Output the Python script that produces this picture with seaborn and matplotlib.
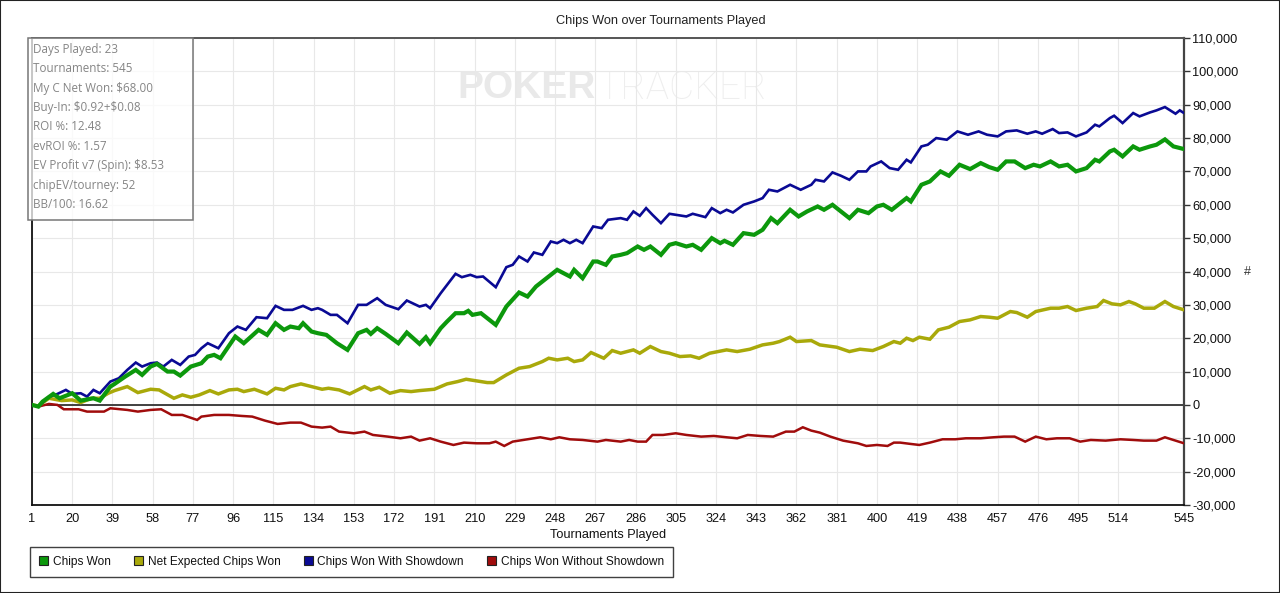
import numpy as np
import pandas as pd
import matplotlib
matplotlib.use("Agg")
import matplotlib.pyplot as plt
from matplotlib.patches import Patch, Rectangle
from matplotlib.ticker import FuncFormatter
import seaborn as sns

# ---------------- data ----------------
green_t = [1, 4, 6, 11, 14, 20, 24, 30, 33, 38, 40, 45, 50, 53, 57, 60, 65, 68, 71, 76, 81, 84, 87, 90,
           97, 101, 108, 112, 116, 120, 123, 127, 129, 133, 136, 140, 145, 150, 155, 159, 161, 164, 168,
           174, 178, 184, 187, 189, 194, 197, 201, 205, 207, 209, 213, 216, 220, 225, 231, 235, 239, 244,
           249, 252, 255, 257, 261, 266, 268, 272, 275, 279, 282, 287, 290, 293, 298, 302, 305, 310, 313,
           317, 322, 326, 328, 332, 337, 342, 346, 350, 353, 359, 363, 367, 372, 375, 379, 383, 387, 391,
           396, 400, 403, 407, 410, 414, 416, 421, 425, 430, 434, 439, 444, 449, 453, 457, 461, 465, 470,
           474, 477, 482, 486, 490, 494, 499, 503, 505, 510, 512, 516, 521, 524, 529, 532, 536, 540, 545]
green_v = [0, -500, 1000, 3300, 2000, 3500, 1300, 2000, 1300, 5500, 6300, 8500, 10500, 9000, 11500, 12300,
           10000, 10000, 8800, 11500, 12500, 14500, 15000, 14000, 20500, 18500, 22500, 21000, 24500, 22500,
           23500, 23000, 24500, 22000, 21500, 21000, 18500, 16500, 21500, 22500, 21300, 23000, 21300, 18500,
           21700, 18300, 20300, 18500, 23000, 25000, 27500, 27500, 28200, 27000, 27500, 26000, 24000, 29500,
           33700, 32500, 35500, 38000, 40500, 39500, 38500, 40500, 38000, 43000, 43000, 42000, 44500, 45000,
           45500, 47500, 46500, 47500, 45000, 48000, 48500, 47500, 48000, 46500, 50000, 48500, 49200, 48000,
           51500, 51000, 52500, 56000, 54500, 58500, 56500, 58000, 59500, 58500, 60000, 58000, 56000, 58500,
           57500, 59500, 60000, 58500, 60000, 62000, 61000, 66000, 67000, 70000, 68700, 72000, 70700, 72500,
           71300, 70500, 73000, 73000, 71000, 72000, 71500, 73000, 71500, 72000, 70000, 71000, 73500, 73000,
           76000, 76500, 74500, 77500, 76500, 77500, 78000, 79600, 77500, 76700]

blue_t = [1, 4, 9, 12, 17, 20, 24, 27, 30, 33, 38, 42, 46, 50, 53, 57, 60, 63, 67, 71, 75, 78, 81, 84, 89,
          94, 98, 102, 107, 112, 116, 120, 124, 129, 133, 136, 138, 142, 145, 150, 155, 159, 164, 168, 174,
          178, 184, 187, 189, 194, 197, 201, 204, 208, 211, 214, 220, 225, 228, 231, 235, 238, 242, 246,
          249, 252, 255, 258, 261, 266, 270, 273, 279, 282, 285, 288, 291, 294, 298, 302, 305, 310, 313,
          319, 322, 326, 329, 332, 337, 342, 346, 349, 353, 359, 364, 369, 371, 375, 379, 383, 387, 391,
          395, 397, 402, 406, 410, 414, 416, 421, 424, 428, 433, 438, 443, 448, 452, 457, 461, 466, 471,
          475, 478, 483, 486, 490, 494, 499, 503, 505, 510, 512, 516, 521, 524, 529, 532, 536, 541, 543, 545]
blue_v = [0, -500, 2500, 3000, 4500, 3300, 3500, 2500, 4500, 3500, 7000, 8000, 10500, 12700, 11500, 12500,
          12700, 11500, 13500, 12000, 14500, 15000, 17000, 18500, 17000, 21500, 23500, 22500, 26300, 26000,
          29700, 28500, 28500, 29700, 28500, 29000, 28500, 27000, 27000, 24500, 30000, 30000, 32000, 30000,
          28700, 31300, 29500, 30000, 29000, 33500, 36000, 39300, 38300, 39000, 38300, 38500, 35300, 41300,
          42000, 44500, 43000, 45700, 45000, 49000, 48500, 49500, 48500, 49500, 48500, 53500, 53000, 55500,
          56000, 55500, 58000, 56700, 59000, 57000, 54500, 57300, 57000, 56500, 57300, 56300, 59000, 57500,
          58500, 57700, 60000, 61000, 62000, 64500, 64000, 66000, 64500, 66000, 67500, 67000, 69700, 68700,
          67500, 70000, 70000, 71500, 73000, 71000, 70500, 73500, 72700, 77500, 78000, 80000, 79500, 82000,
          81000, 82000, 81000, 80500, 82000, 82300, 81300, 82000, 81300, 82700, 81500, 81700, 80500, 81700,
          84000, 83500, 86000, 86700, 84500, 87500, 86500, 87700, 88300, 89300, 87300, 88300, 87500]

yellow_t = [1, 4, 9, 15, 20, 24, 29, 33, 37, 40, 46, 51, 57, 61, 68, 72, 76, 80, 85, 89, 94, 98, 101, 106,
            112, 116, 120, 123, 128, 133, 138, 141, 146, 151, 158, 161, 165, 170, 175, 180, 184, 191, 197,
            202, 206, 210, 216, 219, 225, 231, 236, 242, 245, 249, 254, 257, 261, 265, 271, 275, 279, 285,
            288, 293, 298, 302, 307, 312, 316, 321, 329, 334, 340, 346, 351, 354, 359, 362, 369, 373, 381,
            387, 392, 398, 403, 408, 411, 414, 417, 420, 425, 429, 434, 439, 444, 449, 453, 457, 463, 466,
            471, 475, 482, 486, 490, 494, 499, 504, 507, 511, 515, 519, 522, 526, 531, 536, 540, 545]
yellow_v = [0, -300, 2000, 1300, 1500, 700, 2000, 2000, 3500, 4300, 5500, 3700, 4700, 4500, 2000, 3000, 2300,
            3000, 4300, 3300, 4500, 4700, 4000, 4700, 3300, 5000, 4500, 5500, 6300, 5500, 4700, 5000, 4500,
            3300, 5500, 4500, 5300, 3500, 4300, 4000, 4300, 4700, 6300, 7000, 7700, 7300, 6700, 6700, 9000,
            11000, 11500, 13000, 14000, 13500, 14000, 13000, 13500, 15700, 14000, 16300, 15500, 16500, 15500,
            17500, 16000, 15500, 14500, 14700, 14000, 15500, 16500, 16000, 16700, 18000, 18500, 19000, 20300,
            19000, 19300, 18000, 17300, 16000, 16700, 16300, 17500, 19000, 18500, 20000, 19300, 20300, 19700,
            22500, 23300, 25000, 25500, 26500, 26300, 26000, 28000, 27700, 26300, 28000, 29000, 29000, 29500,
            28300, 29000, 29500, 31300, 30300, 30000, 31000, 30300, 29000, 29000, 31000, 29500, 28500]

red_t = [1, 4, 9, 13, 16, 23, 27, 35, 38, 46, 51, 57, 62, 67, 72, 79, 81, 87, 94, 100, 105, 111, 117, 123,
         128, 133, 138, 142, 146, 153, 158, 162, 169, 175, 180, 184, 189, 194, 200, 205, 211, 217, 220, 224,
         228, 233, 238, 241, 246, 250, 255, 261, 268, 272, 279, 283, 287, 291, 294, 299, 305, 310, 317, 323,
         329, 334, 339, 345, 351, 357, 361, 365, 369, 373, 378, 384, 391, 395, 400, 405, 408, 411, 416, 420,
         425, 431, 437, 442, 449, 455, 460, 465, 470, 475, 480, 485, 491, 496, 501, 508, 515, 521, 526, 532,
         536, 540, 545]
red_v = [0, -500, 300, 0, -1300, -1300, -2000, -2000, -1000, -1500, -2000, -1500, -1300, -3000, -3000, -4500,
         -3500, -3000, -3000, -3300, -3500, -4700, -5700, -5300, -5300, -6500, -6800, -6500, -8000, -8500,
         -8000, -9000, -9500, -10000, -9500, -10700, -10000, -11000, -12000, -11300, -11500, -11500, -11000,
         -12300, -11000, -10500, -10000, -9700, -10300, -9700, -10300, -10500, -11000, -10500, -11000, -10500,
         -11000, -11000, -9000, -9000, -8500, -9000, -9500, -9300, -9700, -10000, -9000, -9300, -9500, -8000,
         -8000, -6700, -7700, -8300, -9500, -10700, -11500, -12300, -12000, -12300, -11300, -11300, -11700,
         -12000, -11300, -10300, -10300, -10000, -10000, -9700, -9500, -9500, -11000, -9500, -10300, -10000,
         -10000, -11000, -10500, -10700, -10300, -10500, -10700, -10700, -9700, -10500, -11500]

x_ticks = [1, 20, 39, 58, 77, 96, 115, 134, 153, 172, 191, 210, 229, 248, 267, 286, 305, 324, 343, 362,
           381, 400, 419, 438, 457, 476, 495, 514, 545]
y_ticks = [-30000, -20000, -10000, 0, 10000, 20000, 30000, 40000, 50000, 60000, 70000, 80000, 90000,
           100000, 110000]

series_names = ["Chips Won", "Net Expected Chips Won", "Chips Won With Showdown", "Chips Won Without Showdown"]
info_lines = ["Days Played: 23", "Tournaments: 545", "My C Net Won: \\$68.00", "Buy-In: \\$0.92+\\$0.08",
              "ROI %: 12.48", "evROI %: 1.57", "EV Profit v7 (Spin): \\$8.53", "chipEV/tourney: 52",
              "BB/100: 16.62"]

# ---------------- styling ----------------
colors = {"Chips Won": "#0c980c", "Net Expected Chips Won": "#a9a90a",
          "Chips Won With Showdown": "#0a0a94", "Chips Won Without Showdown": "#a00c0c"}
widths = {"Chips Won": 3.0, "Net Expected Chips Won": 2.5,
          "Chips Won With Showdown": 1.9, "Chips Won Without Showdown": 1.8}

sns.set_theme(style="white")
plt.rcParams["font.family"] = ["Liberation Sans", "DejaVu Sans"]

df = pd.concat([
    pd.DataFrame({"t": red_t, "v": red_v, "s": series_names[3]}),
    pd.DataFrame({"t": yellow_t, "v": yellow_v, "s": series_names[1]}),
    pd.DataFrame({"t": blue_t, "v": blue_v, "s": series_names[2]}),
    pd.DataFrame({"t": green_t, "v": green_v, "s": series_names[0]}),
], ignore_index=True)

W, H = 1280, 593
fig = plt.figure(figsize=(W / 100, H / 100), dpi=100)
ax = fig.add_axes([32 / W, 1 - 505 / H, (1184 - 32) / W, (505 - 38) / H])

# watermark
wm_x = (596 - 32) / 1152
wm_y = 1 - (88 - 38) / 467
ax.text(wm_x, wm_y, "POKER", transform=ax.transAxes, fontsize=28, fontweight="bold",
        color="#e9e9e9", ha="right", va="center", zorder=0, family=["Liberation Sans"])
ax.text(wm_x + 0.002, wm_y, "TRACKER", transform=ax.transAxes, fontsize=28, fontweight="light",
        color="#eeeeee", ha="left", va="center", zorder=0, family=["Roboto", "Liberation Sans"])

for name in [series_names[3], series_names[1], series_names[2], series_names[0]]:
    sub = df[df["s"] == name]
    sns.lineplot(data=sub, x="t", y="v", ax=ax, color=colors[name], linewidth=widths[name],
                 legend=False, zorder=3, solid_joinstyle="miter")

ax.axhline(0, color="#333333", lw=1.3, zorder=2)

ax.set_xlim(1, 545)
ax.set_ylim(-30000, 110000)
ax.set_xticks(x_ticks)
ax.set_xticklabels([str(t) for t in x_ticks])
ax.set_yticks(y_ticks)
ax.yaxis.set_major_formatter(FuncFormatter(lambda v, p: f"{int(v):,}"))
ax.yaxis.tick_right()
ax.yaxis.set_label_position("right")
ax.set_xlabel("")
ax.set_ylabel("")
ax.grid(True, color="#e8e8e8", lw=0.8, zorder=0)
ax.set_axisbelow(True)
ax.tick_params(axis="x", direction="out", length=4, width=1, color="#333333",
               labelsize=9.2, labelcolor="#111111", pad=2)
ax.tick_params(axis="y", direction="out", length=4, width=1, color="#333333",
               labelsize=9.2, labelcolor="#111111", pad=2, right=True, left=False)
for side, c, lw in [("left", "#111111", 1.3), ("bottom", "#111111", 1.3),
                    ("right", "#444444", 1.6), ("top", "#555555", 1.4)]:
    ax.spines[side].set_visible(True)
    ax.spines[side].set_color(c)
    ax.spines[side].set_linewidth(lw)

# title, axis labels
fig.text(661 / W, 1 - 21 / H, "Chips Won over Tournaments Played", ha="center", va="center",
         fontsize=9.2, color="#222222")
fig.text(608 / W, 1 - 535 / H, "Tournaments Played", ha="center", va="center", fontsize=9.2,
         color="#111111")
fig.text(1247 / W, 1 - 272 / H, "#", ha="center", va="center", fontsize=9, color="#333333")

# info box
fig.patches.append(Rectangle((28 / W, 1 - 220 / H), 165 / W, 182 / H, transform=fig.transFigure,
                             facecolor="white", alpha=0.75, edgecolor="none", zorder=5))
fig.patches.append(Rectangle((28 / W, 1 - 220 / H), 165 / W, 182 / H, transform=fig.transFigure,
                             facecolor="none", edgecolor="#777777", lw=1.1, zorder=6))
for i, line in enumerate(info_lines):
    fig.text(33 / W, 1 - (49 + i * 19.5) / H, line, ha="left", va="center", fontsize=8.4,
             color="#858585", family=["Open Sans", "DejaVu Sans"], zorder=7)

# legend
handles = [Patch(facecolor=colors[n], edgecolor="#222222", lw=0.8, label=n) for n in series_names]
leg = fig.legend(handles=handles, loc="upper left", bbox_to_anchor=(30 / W, 1 - 547 / H), ncol=4,
                 frameon=True, fancybox=False, shadow=False, fontsize=8.6, handlelength=0.75,
                 handleheight=0.75, handletextpad=0.4, columnspacing=1.95, borderpad=0.75,
                 borderaxespad=0)
leg.get_frame().set_edgecolor("#111111")
leg.get_frame().set_linewidth(1.0)
for t in leg.get_texts():
    t.set_color("#111111")

# outer frame
fig.patches.append(Rectangle((0, 0), 1, 1, transform=fig.transFigure, facecolor="none",
                             edgecolor="#222222", lw=1.5, zorder=10))

fig.savefig("out.png", dpi=100)
